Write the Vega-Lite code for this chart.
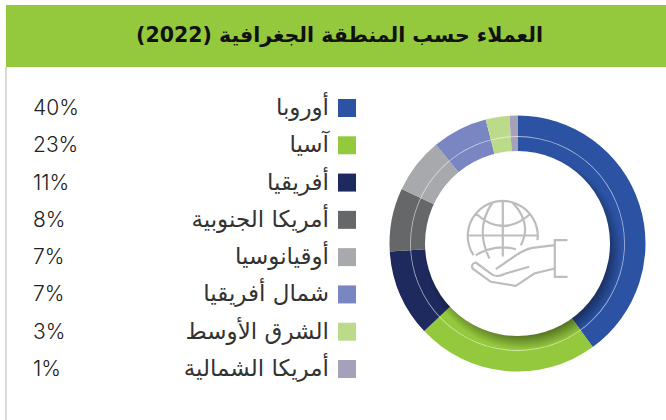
{
"$schema":"https://vega.github.io/schema/vega-lite/v6.json",
"background":"white",
"padding":{"left":5,"top":5,"right":0,"bottom":0},
"bounds":"flush",
"spacing":0,
"config":{"view":{"stroke":null},"concat":{"spacing":0}},
"datasets":{"regions":[
{"region":"أوروبا","share":0.40,"rank":1},
{"region":"آسيا","share":0.23,"rank":2},
{"region":"أفريقيا","share":0.11,"rank":3},
{"region":"أمريكا الجنوبية","share":0.08,"rank":4},
{"region":"أوقيانوسيا","share":0.07,"rank":5},
{"region":"شمال أفريقيا","share":0.07,"rank":6},
{"region":"الشرق الأوسط","share":0.03,"rank":7},
{"region":"أمريكا الشمالية","share":0.01,"rank":8}
]},
"vconcat":[
{"width":661,"height":62,"view":{"fill":"#95c93d"},
 "data":{"values":[{"t":"العملاء حسب المنطقة الجغرافية (2022)"}]},
 "mark":{"type":"text","font":"DejaVu Sans","fontWeight":"bold","fontSize":20.5,"color":"#111111","baseline":"middle","dx":3},
 "encoding":{"text":{"field":"t"}}},
{"hconcat":[
 {"width":90,"height":353,
  "layer":[
   {"data":{"values":[{"c":"edge"}]},
    "mark":{"type":"rule","color":"#d9d9d9","strokeWidth":2},
    "encoding":{"x":{"field":"c","type":"nominal","axis":null,"scale":{"type":"point","padding":0,"domain":["edge","pct"],"range":[0,27]}}}},
   {"data":{"name":"regions"},
    "transform":[{"calculate":"'pct'","as":"c"}],
    "mark":{"type":"text","align":"left","baseline":"middle","font":"Inter","fontWeight":300,"fontSize":21,"color":"#222222"},
    "encoding":{"x":{"field":"c","type":"nominal","axis":null},
     "y":{"field":"region","type":"nominal","axis":null,"sort":{"field":"rank"},"scale":{"type":"point","padding":0,"range":[42,303]}},
     "text":{"field":"share","type":"quantitative","format":".0%"}}}
  ]},
 {"width":291,"height":353,
  "layer":[
   {"data":{"name":"regions"},
    "transform":[{"calculate":"'label'","as":"c"}],
    "mark":{"type":"text","align":"right","baseline":"middle","font":"DejaVu Sans","fontSize":23,"color":"#333333"},
    "encoding":{"x":{"field":"c","type":"nominal","axis":null,"scale":{"type":"point","padding":0,"domain":["label","swatch"],"range":[233,251]}},
     "y":{"field":"region","type":"nominal","axis":null,"sort":{"field":"rank"},"scale":{"type":"point","padding":0,"range":[41,302]}},
     "text":{"field":"region"}}},
   {"data":{"name":"regions"},
    "transform":[{"calculate":"'swatch'","as":"c"}],
    "mark":{"type":"point","shape":"square","filled":true,"size":324,"opacity":1},
    "encoding":{"x":{"field":"c","type":"nominal","axis":null},
     "y":{"field":"region","type":"nominal","axis":null,"sort":{"field":"rank"}},
     "color":{"field":"region","type":"nominal","legend":null,"sort":{"field":"rank"},
      "scale":{"domain":["أوروبا","آسيا","أفريقيا","أمريكا الجنوبية","أوقيانوسيا","شمال أفريقيا","الشرق الأوسط","أمريكا الشمالية"],
       "range":["#2b52a3","#95c93d","#1e2a5e","#666769","#a7a9ac","#7a86c2","#bcdb8a","#a5a1ba"]}}}}
  ]},
 {"width":261,"height":353,
  "layer":[
   {"data":{"name":"regions"},
    "mark":{"type":"arc","radius":128,"radius2":80},
    "encoding":{"theta":{"field":"share","type":"quantitative","stack":true},
     "order":{"field":"rank","type":"ordinal"},
     "color":{"field":"region","type":"nominal","legend":null}}},
   {"data":{"values":[{"p":"shadow"}]},
    "mark":{"type":"arc","theta":0,"theta2":6.2832,"radius":99,"radius2":0,"xOffset":5,"yOffset":7,
     "fill":{"gradient":"radial","x1":0.5,"y1":0.5,"x2":0.5,"y2":0.5,"r1":0,"r2":0.5,"stops":[
      {"offset":0,"color":"rgba(0,0,0,0.4)"},
      {"offset":0.86,"color":"rgba(0,0,0,0.4)"},
      {"offset":1,"color":"rgba(0,0,0,0)"}]}},
    "encoding":{}},
   {"data":{"values":[{"p":"disc"}]},
    "mark":{"type":"arc","theta":0,"theta2":6.2832,"radius":92.5,"radius2":0,"fill":"#ffffff"},
    "encoding":{}},
   {"data":{"values":[{"p":"ring"}]},
    "mark":{"type":"arc","theta":0,"theta2":6.2832,"radius":107.4,"radius2":106.6,"fill":"#ffffff","opacity":0.6},
    "encoding":{}},
   {"data":{"values":[{"p":"icon"}]},
    "mark":{"type":"point","size":4,"filled":false,"opacity":1,"stroke":"#bdbdbd","strokeWidth":2.2,
     "shape":"M20 -3.3A35 35 0 1 0 -44 11.7M-14.7 -43L-14.7 13M-50 -8L20.7 -8M-41.7 -30Q-14.7 -5 13.3 -30M-41.7 11.7Q-22 0 -1.7 5.7M-25 -41Q-43 -15 -28 15M-5 -41Q15 -20 3.3 1.7M50 -3.3L37.3 -3.3L37.3 33.3L50 33.3M37.3 1.7L15 4.3Q6.7 5.7 -3.3 13L-21.7 25.7M11.7 23.3L-11.7 30Q-21.7 35 -26.7 30L-41.7 19Q-46.7 20 -45 25L-26.7 38.3L-1.7 42.3L16.7 30L37.3 25"},
    "encoding":{}}
  ]}
]}
]
}
